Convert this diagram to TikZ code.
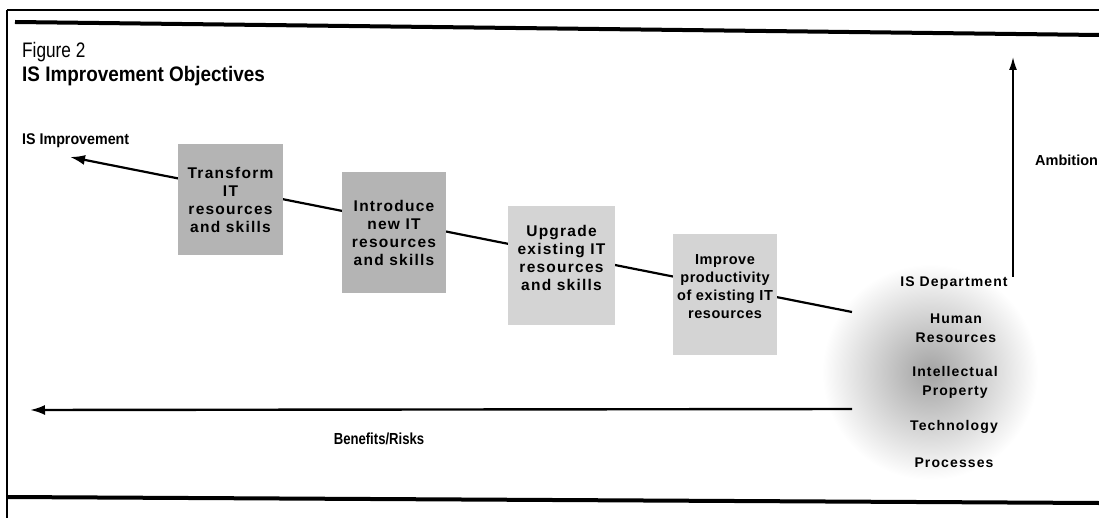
\documentclass[tikz,border=0pt]{standalone}
\usepackage{fontspec}
\setmainfont{Liberation Sans}
\newfontfamily\condfont[FakeStretch=0.82]{Liberation Sans}
\newfontfamily\titlefont[FakeStretch=0.9]{Liberation Sans}
\newfontfamily\labfont[FakeStretch=0.92]{Liberation Sans}
\newfontfamily\spacedfont[LetterSpace=8]{Liberation Sans}
\newfontfamily\tightfont[LetterSpace=4]{Liberation Sans}
\usetikzlibrary{arrows.meta}
\definecolor{boxdark}{RGB}{180,180,180}
\definecolor{boxlight}{RGB}{212,212,212}
\begin{document}
\begin{tikzpicture}[x=1pt,y=-1pt,
  rule/.style={line width=4pt,black},
  framel/.style={line width=1.6pt,black},
  conn/.style={line width=2.2pt,-{Latex[length=15pt,width=10pt]}},
  stepbox/.style={rectangle,inner sep=0pt,align=center,
    font=\spacedfont\fontsize{15.5}{18}\selectfont\bfseries},
  sidelab/.style={align=center,font=\spacedfont\fontsize{14}{19}\selectfont\bfseries},
  axislab/.style={font=\condfont\fontsize{16}{18}\selectfont\bfseries}]
\useasboundingbox (0,0) rectangle (1099,518);
% frame
\draw[framel] (7,10) -- (1099,10);
\draw[framel] (7,10) -- (7,518);
\draw[rule] (15,22) -- (1099,35);
\draw[rule] (7,497) -- (1099,503);
% title
\node[anchor=base west,inner sep=0pt,font=\condfont\fontsize{21}{24}\selectfont] (fig) at (22,58) {Figure 2};
\node[anchor=base west,inner sep=0pt,font=\titlefont\fontsize{21}{24}\selectfont\bfseries] (title) at (22,82) {IS Improvement Objectives};
\node[anchor=base west,inner sep=0pt,font=\labfont\fontsize{15.5}{18}\selectfont\bfseries] (isimp) at (22,145) {IS Improvement};
% shaded blob
\shade[inner color=black!36,outer color=white] (930,372) circle (108);
% main diagonal line
\coordinate (lineStart) at (852,312);
\coordinate (lineTip) at (70,157);
\draw[conn] (lineStart) -- (lineTip);
% boxes
\node[stepbox,fill=boxdark,minimum width=105,minimum height=111] (b1) at (230.5,199.5) {Transform\\IT\\resources\\and skills};
\node[stepbox,fill=boxdark,minimum width=104,minimum height=121] (b2) at (394,232.5) {Introduce\\new IT\\resources\\and skills};
\node[stepbox,fill=boxlight,minimum width=107,minimum height=119] (b3) at (561.5,265.5) {Upgrade\\existing IT\\resources\\and skills\\[-3pt]\mbox{}};
\node[stepbox,fill=boxlight,minimum width=104,minimum height=121,
  font=\tightfont\fontsize{14.5}{18}\selectfont\bfseries] (b4) at (725,294.5) {Improve\\productivity\\of existing IT\\resources\\[-3pt]\mbox{}};
% bottom arrow
\coordinate (brStart) at (852,409);
\coordinate (brTip) at (30,410);
\draw[line width=2.4pt,-{Latex[length=15pt,width=10pt]}] (brStart) -- (brTip);
\node[axislab] (benefits) at (379,439) {Benefits/Risks};
% ambition arrow
\coordinate (ambStart) at (1013,277);
\coordinate (ambTip) at (1013,57);
\draw[line width=1.6pt,-{Latex[length=13pt,width=8pt]}] (ambStart) -- (ambTip);
\node[anchor=west,inner sep=0pt,font=\fontsize{14.5}{16}\selectfont\bfseries] (ambition) at (1035,160) {Ambition};
% right labels
\node[sidelab] (isdept) at (954,283) {IS Department};
\node[sidelab] (hr) at (956,328) {Human\\Resources};
\node[sidelab] (ip) at (955,382) {Intellectual\\Property};
\node[sidelab] (tech) at (954,427) {Technology};
\node[sidelab] (proc) at (954,463) {Processes};
\end{tikzpicture}
\end{document}
